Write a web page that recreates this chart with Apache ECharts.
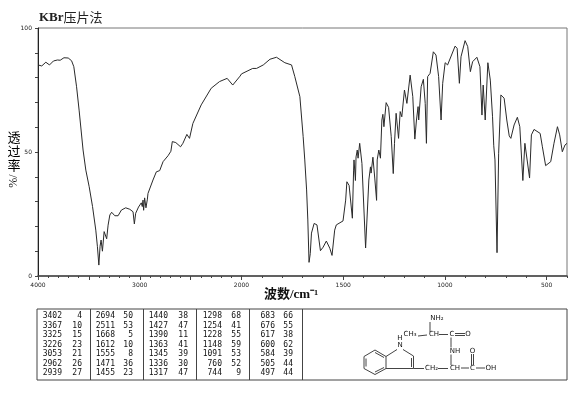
<!DOCTYPE html>
<html><head><meta charset="utf-8">
<style>html,body{margin:0;padding:0;background:#fff}#c{width:570px;height:394px}</style>
<script src="https://cdn.jsdelivr.net/npm/echarts@6/dist/echarts.min.js"></script>
</head><body><div id="c"></div>
<script>
const titleLatin = 'KBr';
const titleCjk = '压片法';
const xTickLabelsHigh = [4000, 3000, 2000];
const xTickLabelsLow = [1500, 1000, 500];
const yTickLabels = [0, 50, 100];

const wnHigh = [4000,3963,3923,3887,3848,3809,3782,3745,3703,3670,3648,3621,3596,3557,3530,3497,3464,3432,3416,3402,3390,3380,3367,3350,3325,3311,3294,3276,3245,3226,3213,3180,3138,3098,3066,3053,3040,3012,2996,2985,2975,2968,2962,2952,2939,2925,2919,2870,2837,2804,2771,2722,2694,2680,2646,2599,2576,2537,2511,2478,2396,2298,2216,2141,2086,2014,2000];
const tHigh = [85.1,84.7,86.2,85.1,86.7,87.1,87,88,87.9,86.8,84.4,76.3,66.9,50.8,42.7,36,28,18.5,11.8,4.4,12,14.5,10,17.9,15,20.5,24.6,25.7,24.3,23.5,24.3,26.6,27.5,26.9,25.9,21,25.3,27.8,27.3,29.5,28,30.6,26.5,31.5,27.5,31,33.3,38.7,42,42.5,46.1,48.5,50.3,54.2,53.8,52.1,53.5,57.1,55.5,61.5,69,75.7,78.4,79.7,77,80.6,81.5];

const wnLow = [2000,1945,1926,1893,1860,1828,1787,1754,1738,1713,1697,1689,1680,1674,1668,1662,1656,1643,1629,1612,1599,1583,1566,1555,1542,1534,1501,1488,1482,1471,1455,1449,1447,1440,1437,1431,1427,1419,1408,1390,1374,1366,1363,1354,1345,1336,1333,1325,1317,1310,1305,1300,1289,1277,1264,1254,1248,1240,1228,1220,1212,1199,1187,1171,1158,1148,1140,1132,1129,1117,1106,1097,1091,1085,1073,1057,1044,1031,1019,1011,999,987,950,940,929,921,901,888,875,864,843,828,818,812,802,789,777,766,760,754,744,736,725,709,696,684,676,660,644,632,617,607,600,584,575,562,532,521,505,497,480,464,447,436,423,410,400];
const tLow = [81.5,83.7,83.7,85.1,87.4,88.2,86,85.1,80.4,72.3,56.2,46.8,34.7,22.6,5.5,9,17.3,21.2,20.6,10.2,11.6,14.1,11.2,8.3,18.5,20.6,22.2,30.6,38,36.5,23.3,42.7,46.8,38.5,48,50.8,47.5,53.5,45.4,11.3,38.7,44,41.5,47.9,39.5,30.5,46.8,50.8,47.5,62.9,65.2,60.2,69.9,68,56.2,41.3,53.5,65.6,55.5,66.3,64.2,75,69.6,81,72.3,55.2,62.9,68.3,62.9,76.3,79.3,69.6,53.5,80.4,81.7,90.4,89.1,80.4,62.9,77.7,86,85.1,92.7,91.8,77.7,88.4,94.9,92.5,82.4,86.4,88.2,84.4,64.9,77,62.9,86,79,64.2,52.5,46.8,9.4,49.5,73,71.7,62.9,56.5,55.5,60.9,64,60.2,38.5,53.5,52.8,39.5,56.9,59.1,57.5,52.1,44.5,44.5,46.1,53.5,60.2,56.9,50.1,52.8,53.5];

const peakTable = [
  [[3402,4],[3367,10],[3325,15],[3226,23],[3053,21],[2962,26],[2939,27]],
  [[2694,50],[2511,53],[1668,5],[1612,10],[1555,8],[1471,36],[1455,23]],
  [[1440,38],[1427,47],[1390,11],[1363,41],[1345,39],[1336,30],[1317,47]],
  [[1298,68],[1254,41],[1228,55],[1148,59],[1091,53],[760,52],[744,9]],
  [[683,66],[676,55],[617,38],[600,62],[584,39],[505,44],[497,44]]
];

const LINE = '#2a2a2a', AXIS = '#444', FRAME = '#777';
const tickFont = {fontSize: 6, fontFamily: 'DejaVu Sans', color: '#222', formatter: v => String(v)};
const G = {left: 38, mid: 241.5, right: 567, top: 28, bottom: 276};

function xPair(gridIndex, min, max, longs, labels) {
  return [{
    type: 'value', gridIndex, min, max, inverse: true, interval: 100, position: 'bottom',
    splitLine: {show: false},
    axisLine: {show: true, onZero: false, lineStyle: {color: AXIS, width: 1.5}},
    axisTick: {show: true, length: 2, lineStyle: {color: AXIS}},
    axisLabel: Object.assign({show: true, margin: 6, showMinLabel: true, showMaxLabel: true, hideOverlap: false,
      customValues: labels}, tickFont)
  }, {
    type: 'value', gridIndex, min, max, inverse: true, interval: 100, position: 'bottom',
    splitLine: {show: false},
    axisLine: {show: false, onZero: false},
    axisTick: {show: true, length: 4, customValues: longs, lineStyle: {color: AXIS}},
    axisLabel: {show: false}
  }];
}

const zip = (a, b) => a.map((v, i) => [v, b[i]]);
const gfx = [];
const txt = (text, x, y, o) => gfx.push({type: 'text', silent: true, x, y, rotation: (o && o.rot) || 0,
  style: Object.assign({text, fill: '#111', align: 'center', verticalAlign: 'middle', fontFamily: 'Liberation Serif, Noto Sans CJK SC', fontSize: 13}, o || {})});
const seg = (x1, y1, x2, y2, c, w) => gfx.push({type: 'line', silent: true,
  shape: {x1, y1, x2, y2}, style: {stroke: c || '#333', lineWidth: w || 1}});

// axis titles
txt('透\n过\n率', 14, 151, {fontSize: 13, lineHeight: 14, fontWeight: 'normal', fontFamily: 'Noto Sans CJK SC', fill: '#000'});
txt('%/', 14, 181, {fontSize: 12, rot: Math.PI / 2, fontFamily: 'Liberation Serif'});
txt('波数/cm⁻¹', 291, 295, {fontSize: 13, fontWeight: 'bold'});

// peak table
const tTop = 309, tBot = 380, rowH = 9.5, rowTop = 316;
const colX = [37, 90.5, 143.5, 196.5, 249.5, 302.5, 567];
const numR = [62, 115, 168, 222, 275], valR = [82, 133, 188, 241, 293];
gfx.push({type: 'rect', silent: true, shape: {x: colX[0], y: tTop, width: colX[6] - colX[0], height: tBot - tTop},
  style: {fill: 'none', stroke: '#444', lineWidth: 1}});
colX.slice(1, 6).forEach(x => seg(x, tTop, x, tBot, '#444', 1));
const mono = {fontFamily: 'DejaVu Sans Mono', fontSize: 8, align: 'right'};
peakTable.forEach((col, c) => col.forEach((row, r) => {
  txt(String(row[0]), numR[c], rowTop + r * rowH, mono);
  txt(String(row[1]), valR[c], rowTop + r * rowH, mono);
}));

// structure drawing
const atom = {fontFamily: 'DejaVu Sans', fontSize: 7};
[['NH₂',437,318.5],['CH₃',410,334.5],['CH',434,334.5],['C',452,334.5],['O',468,334.5],['NH',455,351],
 ['CH',455,368],['CH₂',431.5,368.5],['C',472.5,368],['O',472.5,351],['OH',491,368],['H',400,338.5],['N',400,345]]
  .forEach(a => txt(a[0], a[1], a[2], atom));
[[430,322,430,332],[418,336,427,335],[439,334.5,448,334.5],[455,333.5,465,333.5],[455,335.5,465,335.5],
 [451,337.5,451,347.5],[451,354.5,451,365],[438,368.5,448,368.5],[413.5,368.5,424,368.5],[461,368,469,368],
 [471.5,365,471.5,354],[473.5,365,473.5,354],[476,368,485,368],
 [375,350,386,356.5],[386,356.5,386,368.5],[386,368.5,375,374.5],[375,374.5,364,368.5],[364,368.5,364,356.5],[364,356.5,375,350],
 [375,352.5,384,357.5],[375,372,384,367.5],[366,366.5,366,358.5],
 [386,356.5,397,349.5],[403,349.5,413.5,356],[413.5,356,413.5,368.5],[411.5,358,411.5,367],[413.5,368.5,386,368.5]]
  .forEach(b => seg(b[0], b[1], b[2], b[3], '#444', 1));

const chart = echarts.init(document.getElementById('c'), null, {renderer: 'canvas'});
const highAxes = xPair(0, 2000, 4000, [2500, 3000, 3500, 4000], xTickLabelsHigh);
const lowAxes = xPair(1, 400, 2000, [500, 1000, 1500, 2000], xTickLabelsLow);
chart.setOption({
  animation: false,
  backgroundColor: '#fff',
  title: {text: '{a|' + titleLatin + '}{b|' + titleCjk + '}', left: 39, top: 11, padding: 0,
    textStyle: {rich: {
      a: {fontFamily: 'Liberation Serif', fontSize: 13, fontWeight: 'bold', color: '#222'},
      b: {fontFamily: 'Noto Sans CJK SC', fontSize: 13, fontWeight: 'normal', color: '#222'}
    }}},
  grid: [
    {left: G.left, width: G.mid - G.left, top: G.top, height: G.bottom - G.top, containLabel: false},
    {left: G.mid, width: G.right - G.mid, top: G.top, height: G.bottom - G.top, containLabel: false},
    {left: G.left, width: G.right - G.left, top: G.top, height: G.bottom - G.top, show: true,
      borderColor: FRAME, borderWidth: 1, backgroundColor: 'transparent', z: 0}
  ],
  xAxis: [...highAxes, ...lowAxes],
  yAxis: [
    {type: 'value', gridIndex: 0, min: 0, max: 100, interval: 10, position: 'left', splitLine: {show: false},
      axisLine: {show: true, onZero: false, lineStyle: {color: '#222', width: 1}},
      axisTick: {show: true, length: 3, lineStyle: {color: AXIS}},
      axisLabel: Object.assign({margin: 6, customValues: yTickLabels}, tickFont)},
    {type: 'value', gridIndex: 1, min: 0, max: 100, interval: 10, show: false}
  ],
  series: [
    {type: 'line', xAxisIndex: 0, yAxisIndex: 0, data: zip(wnHigh, tHigh), showSymbol: false,
      lineStyle: {color: LINE, width: 1}, silent: true},
    {type: 'line', xAxisIndex: 2, yAxisIndex: 1, data: zip(wnLow, tLow), showSymbol: false,
      lineStyle: {color: LINE, width: 1}, silent: true}
  ],
  graphic: gfx
});
</script></body></html>
